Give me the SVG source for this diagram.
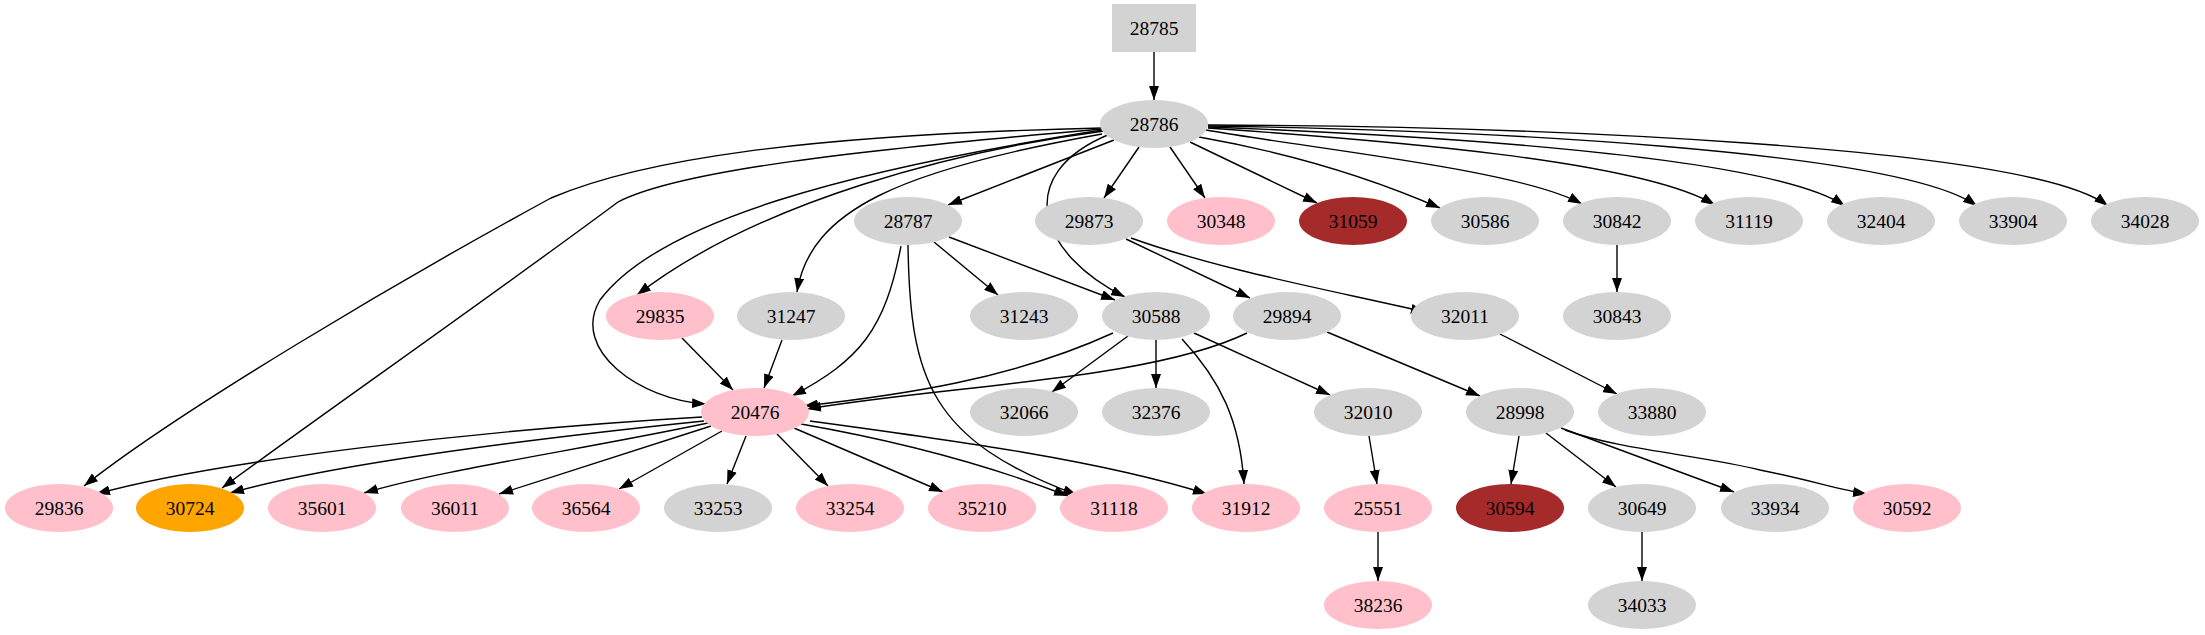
<svg xmlns="http://www.w3.org/2000/svg" width="2205" height="635" viewBox="0 0 2205 635">
<style>
.g{fill:#d3d3d3}.p{fill:#ffc0cb}.b{fill:#a52a2a}.o{fill:#ffa500}
text{font-family:"Liberation Serif","Times New Roman",serif;font-size:19.5px;text-anchor:middle;fill:#000}
#edges path{fill:none;stroke:#000;stroke-width:1.4;marker-end:url(#ah)}
</style>
<defs><marker id="ah" markerUnits="userSpaceOnUse" markerWidth="14" markerHeight="10" refX="14" refY="5" orient="auto"><path d="M0,0 L14,5 L0,10 z" fill="#000"/></marker></defs>
<rect width="2205" height="635" fill="#fff"/>
<g id="edges">
<path d="M1154 52 L1154 100"/>
<path d="M1139 147 L1104 198"/>
<path d="M1170 147 L1205 198"/>
<path d="M1190 142 L1317 203"/>
<path d="M1199 137 Q1330 160 1440 208"/>
<path d="M1206 130 C1320 150 1520 170 1582 204"/>
<path d="M1208 128 C1380 140 1640 160 1715 205"/>
<path d="M1208 127 C1420 135 1770 155 1845 206"/>
<path d="M1208 126 C1480 130 1900 150 1977 206"/>
<path d="M1208 125 C1520 126 2030 145 2108 206"/>
<path d="M1114 140 L948 205"/>
<path d="M1110 134 C1010 175 1040 255 1125 297"/>
<path d="M1104 131 C960 150 760 200 637 295"/>
<path d="M1102 134 C900 170 810 210 797 292"/>
<path d="M1102 130 C850 170 660 220 600 300 C570 350 640 400 706 404"/>
<path d="M1102 129 C860 150 680 170 618 202 C500 290 300 430 222 488"/>
<path d="M1102 128 C800 135 640 160 551 198 C400 280 180 410 84 486"/>
<path d="M934 242 L998 295"/>
<path d="M949 237 L1115 300"/>
<path d="M901 246 C885 330 860 360 792 396"/>
<path d="M908 245 C910 380 930 440 1077 495"/>
<path d="M1126 239 L1250 298"/>
<path d="M1131 238 C1220 270 1330 290 1425 312"/>
<path d="M1617 245 L1617 292"/>
<path d="M782 340 L764 388"/>
<path d="M682 338 L733 390"/>
<path d="M1113 333 C1010 380 900 395 804 406"/>
<path d="M1247 333 C1150 380 950 385 807 409"/>
<path d="M1128 336 L1052 392"/>
<path d="M1156 340 L1156 388"/>
<path d="M1182 339 C1220 380 1240 420 1244 484"/>
<path d="M1194 333 L1330 395"/>
<path d="M1327 332 L1480 396"/>
<path d="M1500 334 L1617 394"/>
<path d="M1369 436 L1377 484"/>
<path d="M1519 436 L1511 484"/>
<path d="M1546 433 L1616 487"/>
<path d="M1561 428 L1734 492"/>
<path d="M1565 430 C1620 450 1700 455 1760 470 C1810 480 1840 490 1867 494"/>
<path d="M1378 532 L1378 581"/>
<path d="M1642 532 L1642 581"/>
<path d="M702 417 C480 430 220 460 96 494"/>
<path d="M704 421 C520 440 330 465 230 493"/>
<path d="M708 423 C580 450 440 470 364 493"/>
<path d="M711 426 L499 494"/>
<path d="M722 431 L619 489"/>
<path d="M746 436 L727 484"/>
<path d="M777 434 L828 486"/>
<path d="M794 428 L943 492"/>
<path d="M801 424 Q950 450 1068 496"/>
<path d="M810 421 C950 440 1100 460 1207 494"/>
</g>
<g id="n28785"><rect x="1112" y="4" width="84" height="48" class="g"/><text x="1154" y="35">28785</text></g>
<g id="n28786"><ellipse cx="1154" cy="124" rx="54" ry="24" class="g"/><text x="1154" y="131">28786</text></g>
<g id="n28787"><ellipse cx="908" cy="221" rx="54" ry="24" class="g"/><text x="908" y="228">28787</text></g>
<g id="n29873"><ellipse cx="1089" cy="221" rx="54" ry="24" class="g"/><text x="1089" y="228">29873</text></g>
<g id="n30348"><ellipse cx="1221" cy="221" rx="54" ry="24" class="p"/><text x="1221" y="228">30348</text></g>
<g id="n31059"><ellipse cx="1353" cy="221" rx="54" ry="24" class="b"/><text x="1353" y="228">31059</text></g>
<g id="n30586"><ellipse cx="1485" cy="221" rx="54" ry="24" class="g"/><text x="1485" y="228">30586</text></g>
<g id="n30842"><ellipse cx="1617" cy="221" rx="54" ry="24" class="g"/><text x="1617" y="228">30842</text></g>
<g id="n31119"><ellipse cx="1749" cy="221" rx="54" ry="24" class="g"/><text x="1749" y="228">31119</text></g>
<g id="n32404"><ellipse cx="1881" cy="221" rx="54" ry="24" class="g"/><text x="1881" y="228">32404</text></g>
<g id="n33904"><ellipse cx="2013" cy="221" rx="54" ry="24" class="g"/><text x="2013" y="228">33904</text></g>
<g id="n34028"><ellipse cx="2145" cy="221" rx="54" ry="24" class="g"/><text x="2145" y="228">34028</text></g>
<g id="n29835"><ellipse cx="660" cy="316" rx="54" ry="24" class="p"/><text x="660" y="323">29835</text></g>
<g id="n31247"><ellipse cx="791" cy="316" rx="54" ry="24" class="g"/><text x="791" y="323">31247</text></g>
<g id="n31243"><ellipse cx="1024" cy="316" rx="54" ry="24" class="g"/><text x="1024" y="323">31243</text></g>
<g id="n30588"><ellipse cx="1156" cy="316" rx="54" ry="24" class="g"/><text x="1156" y="323">30588</text></g>
<g id="n29894"><ellipse cx="1287" cy="316" rx="54" ry="24" class="g"/><text x="1287" y="323">29894</text></g>
<g id="n32011"><ellipse cx="1465" cy="316" rx="54" ry="24" class="g"/><text x="1465" y="323">32011</text></g>
<g id="n30843"><ellipse cx="1617" cy="316" rx="54" ry="24" class="g"/><text x="1617" y="323">30843</text></g>
<g id="n20476"><ellipse cx="755" cy="412" rx="54" ry="24" class="p"/><text x="755" y="419">20476</text></g>
<g id="n32066"><ellipse cx="1024" cy="412" rx="54" ry="24" class="g"/><text x="1024" y="419">32066</text></g>
<g id="n32376"><ellipse cx="1156" cy="412" rx="54" ry="24" class="g"/><text x="1156" y="419">32376</text></g>
<g id="n32010"><ellipse cx="1368" cy="412" rx="54" ry="24" class="g"/><text x="1368" y="419">32010</text></g>
<g id="n28998"><ellipse cx="1520" cy="412" rx="54" ry="24" class="g"/><text x="1520" y="419">28998</text></g>
<g id="n33880"><ellipse cx="1652" cy="412" rx="54" ry="24" class="g"/><text x="1652" y="419">33880</text></g>
<g id="n29836"><ellipse cx="59" cy="508" rx="54" ry="24" class="p"/><text x="59" y="515">29836</text></g>
<g id="n30724"><ellipse cx="190" cy="508" rx="54" ry="24" class="o"/><text x="190" y="515">30724</text></g>
<g id="n35601"><ellipse cx="322" cy="508" rx="54" ry="24" class="p"/><text x="322" y="515">35601</text></g>
<g id="n36011"><ellipse cx="455" cy="508" rx="54" ry="24" class="p"/><text x="455" y="515">36011</text></g>
<g id="n36564"><ellipse cx="586" cy="508" rx="54" ry="24" class="p"/><text x="586" y="515">36564</text></g>
<g id="n33253"><ellipse cx="718" cy="508" rx="54" ry="24" class="g"/><text x="718" y="515">33253</text></g>
<g id="n33254"><ellipse cx="850" cy="508" rx="54" ry="24" class="p"/><text x="850" y="515">33254</text></g>
<g id="n35210"><ellipse cx="982" cy="508" rx="54" ry="24" class="p"/><text x="982" y="515">35210</text></g>
<g id="n31118"><ellipse cx="1114" cy="508" rx="54" ry="24" class="p"/><text x="1114" y="515">31118</text></g>
<g id="n31912"><ellipse cx="1246" cy="508" rx="54" ry="24" class="p"/><text x="1246" y="515">31912</text></g>
<g id="n25551"><ellipse cx="1378" cy="508" rx="54" ry="24" class="p"/><text x="1378" y="515">25551</text></g>
<g id="n30594"><ellipse cx="1510" cy="508" rx="54" ry="24" class="b"/><text x="1510" y="515">30594</text></g>
<g id="n30649"><ellipse cx="1642" cy="508" rx="54" ry="24" class="g"/><text x="1642" y="515">30649</text></g>
<g id="n33934"><ellipse cx="1775" cy="508" rx="54" ry="24" class="g"/><text x="1775" y="515">33934</text></g>
<g id="n30592"><ellipse cx="1907" cy="508" rx="54" ry="24" class="p"/><text x="1907" y="515">30592</text></g>
<g id="n38236"><ellipse cx="1378" cy="605" rx="54" ry="24" class="p"/><text x="1378" y="612">38236</text></g>
<g id="n34033"><ellipse cx="1642" cy="605" rx="54" ry="24" class="g"/><text x="1642" y="612">34033</text></g>
</svg>
